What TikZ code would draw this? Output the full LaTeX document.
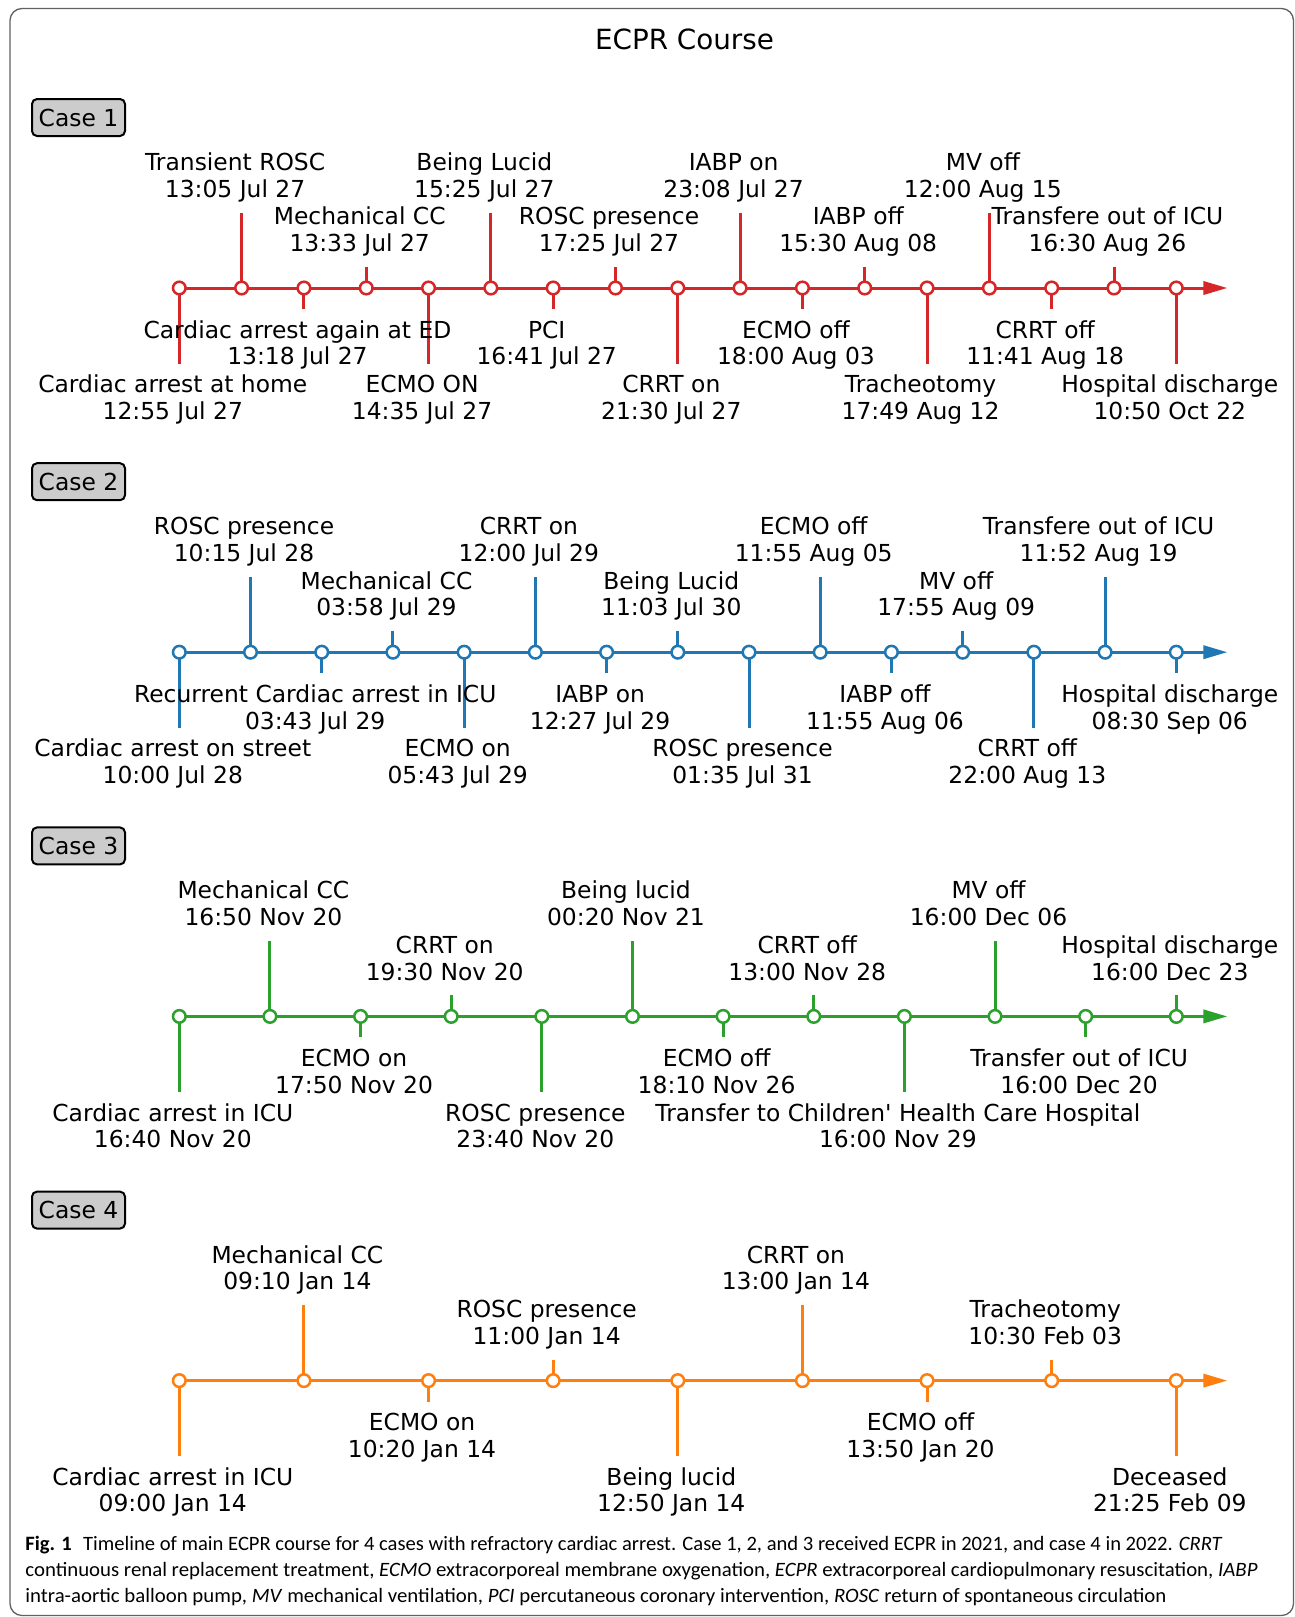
\documentclass[tikz,border=0pt]{standalone}
\usepackage{fontspec}
\usepackage{graphicx}
\newfontfamily\djv{DejaVu Sans}
\newfontfamily\capf{Carlito}
\usetikzlibrary{arrows.meta}
\pgfdeclarelayer{back}
\pgfdeclarelayer{bg}
\pgfdeclarelayer{mid}
\pgfsetlayers{back,bg,mid,main}
\definecolor{tred}{RGB}{214,39,40}
\definecolor{tblue}{RGB}{31,119,180}
\definecolor{tgreen}{RGB}{44,160,44}
\definecolor{torange}{RGB}{255,127,14}
\definecolor{boxgray}{RGB}{204,204,204}
\newcommand\labfont{\djv\fontsize{11.7pt}{13.35pt}\selectfont}
\newcommand\titfont{\djv\fontsize{13.9pt}{16pt}\selectfont}
\newcommand\capfnt{\capf\fontsize{10.2pt}{13pt}\selectfont}
\tikzset{
  stemline/.style={draw=#1, line width=1.5pt},
  tldot/.style={circle, draw=#1, fill=white, line width=1.25pt, minimum size=6.3pt, inner sep=0pt},
  tllabel/.style={font=\labfont, align=center, inner sep=0pt},
  axisline/.style={draw=#1, fill=#1, line width=1.5pt, -{Triangle[length=12pt,width=6.6pt]}},
  casebox/.style={draw=black, line width=1pt, fill=boxgray, rounded corners=2.5pt,
    minimum width=46.5pt, minimum height=18.5pt, inner sep=0pt, font=\labfont},
  capline/.style={anchor=base west, inner sep=0pt, font=\capfnt},
}
\newcommand\drawtl[5]{% #1 case, #2 y, #3 colour, #4 N, #5 list
  \foreach [count=\k from 0] \a/\b in {#5} {
    \pgfmathsetmacro\xx{179.3+\k*997/(#4-1)}
    \pgfmathtruncatemacro\m{mod(\k,4)}
    \ifcase\m \def\ss{75.5}\or\def\ss{-75.5}\or\def\ss{21}\or\def\ss{-21}\fi
    \pgfmathsetmacro\ys{#2+\ss}
    \pgfmathsetmacro\xl{\xx-6.5}
    \coordinate (c#1p\k) at (\xx,#2);
    \coordinate (c#1s\k) at (\xx,\ys);
    \begin{pgfonlayer}{bg}
      \draw[stemline=#3] (c#1p\k) -- (c#1s\k);
    \end{pgfonlayer}
    \begin{pgfonlayer}{mid}
      \node[tldot=#3] (c#1d\k) at (c#1p\k) {};
    \end{pgfonlayer}
    \ifdim\ss pt>0pt
      \pgfmathsetmacro\yl{\ys+10}
      \node[tllabel, anchor=north] (c#1l\k) at (\xl,\yl) {\strut\a\\\strut\b};
    \else
      \pgfmathsetmacro\yl{\ys-7}
      \node[tllabel, anchor=south] (c#1l\k) at (\xl,\yl) {\strut\a\\\strut\b};
    \fi
  }
  \coordinate (c#1tip) at (1227.3,#2);
  \begin{pgfonlayer}{bg}
    \draw[axisline=#3] (c#1p0) -- (c#1tip);
  \end{pgfonlayer}
}
\begin{document}
\begin{tikzpicture}[x=0.5pt,y=-0.5pt]
\useasboundingbox (0,0) rectangle (1295,1617);
\begin{pgfonlayer}{back}
\fill[white] (0,0) rectangle (1295,1617);
\end{pgfonlayer}
\draw[draw=black!62, line width=0.65pt, rounded corners=6pt] (10,8.5) rectangle (1293.5,1615.5);
\node[font=\titfont, anchor=base, inner sep=0pt] (title) at (684.5,49.3) {ECPR Course};

\node[casebox] (case1) at (78.5,117.5) {Case 1};
\node[casebox] (case2) at (78.5,481.7) {Case 2};
\node[casebox] (case3) at (78.5,845.9) {Case 3};
\node[casebox] (case4) at (78.5,1210.1) {Case 4};

\drawtl{1}{288}{tred}{17}{{Cardiac arrest at home}/{12:55 Jul 27},
  {Transient ROSC}/{13:05 Jul 27},
  {Cardiac arrest again at ED}/{13:18 Jul 27},
  {Mechanical CC}/{13:33 Jul 27},
  {ECMO ON}/{14:35 Jul 27},
  {Being Lucid}/{15:25 Jul 27},
  {PCI}/{16:41 Jul 27},
  {ROSC presence}/{17:25 Jul 27},
  {CRRT on}/{21:30 Jul 27},
  {IABP on}/{23:08 Jul 27},
  {ECMO off}/{18:00 Aug 03},
  {IABP off}/{15:30 Aug 08},
  {Tracheotomy}/{17:49 Aug 12},
  {MV off}/{12:00 Aug 15},
  {CRRT off}/{11:41 Aug 18},
  {Transfere out of ICU}/{16:30 Aug 26},
  {Hospital discharge}/{10:50 Oct 22}}

\drawtl{2}{652.2}{tblue}{15}{{Cardiac arrest on street}/{10:00 Jul 28},
  {ROSC presence}/{10:15 Jul 28},
  {Recurrent Cardiac arrest in ICU}/{03:43 Jul 29},
  {Mechanical CC}/{03:58 Jul 29},
  {ECMO on}/{05:43 Jul 29},
  {CRRT on}/{12:00 Jul 29},
  {IABP on}/{12:27 Jul 29},
  {Being Lucid}/{11:03 Jul 30},
  {ROSC presence}/{01:35 Jul 31},
  {ECMO off}/{11:55 Aug 05},
  {IABP off}/{11:55 Aug 06},
  {MV off}/{17:55 Aug 09},
  {CRRT off}/{22:00 Aug 13},
  {Transfere out of ICU}/{11:52 Aug 19},
  {Hospital discharge}/{08:30 Sep 06}}

\drawtl{3}{1016.4}{tgreen}{12}{{Cardiac arrest in ICU}/{16:40 Nov 20},
  {Mechanical CC}/{16:50 Nov 20},
  {ECMO on}/{17:50 Nov 20},
  {CRRT on}/{19:30 Nov 20},
  {ROSC presence}/{23:40 Nov 20},
  {Being lucid}/{00:20 Nov 21},
  {ECMO off}/{18:10 Nov 26},
  {CRRT off}/{13:00 Nov 28},
  {Transfer to Children' Health Care Hospital}/{16:00 Nov 29},
  {MV off}/{16:00 Dec 06},
  {Transfer out of ICU}/{16:00 Dec 20},
  {Hospital discharge}/{16:00 Dec 23}}

\drawtl{4}{1380.6}{torange}{9}{{Cardiac arrest in ICU}/{09:00 Jan 14},
  {Mechanical CC}/{09:10 Jan 14},
  {ECMO on}/{10:20 Jan 14},
  {ROSC presence}/{11:00 Jan 14},
  {Being lucid}/{12:50 Jan 14},
  {CRRT on}/{13:00 Jan 14},
  {ECMO off}/{13:50 Jan 20},
  {Tracheotomy}/{10:30 Feb 03},
  {Deceased}/{21:25 Feb 09}}

\node[capline] (cap1) at (25,1550) {\resizebox{598.5pt}{\height}{\textbf{Fig. 1}\hspace{0.55em}Timeline of main ECPR course for 4 cases with refractory cardiac arrest. Case 1, 2, and 3 received ECPR in 2021, and case 4 in 2022. \textit{CRRT}}};
\node[capline] (cap2) at (25,1576) {\resizebox{616pt}{\height}{continuous renal replacement treatment, \textit{ECMO} extracorporeal membrane oxygenation, \textit{ECPR} extracorporeal cardiopulmonary resuscitation, \textit{IABP}}};
\node[capline] (cap3) at (25,1602) {\resizebox{570.5pt}{\height}{intra-aortic balloon pump, \textit{MV} mechanical ventilation, \textit{PCI} percutaneous coronary intervention, \textit{ROSC} return of spontaneous circulation}};
\end{tikzpicture}
\end{document}
